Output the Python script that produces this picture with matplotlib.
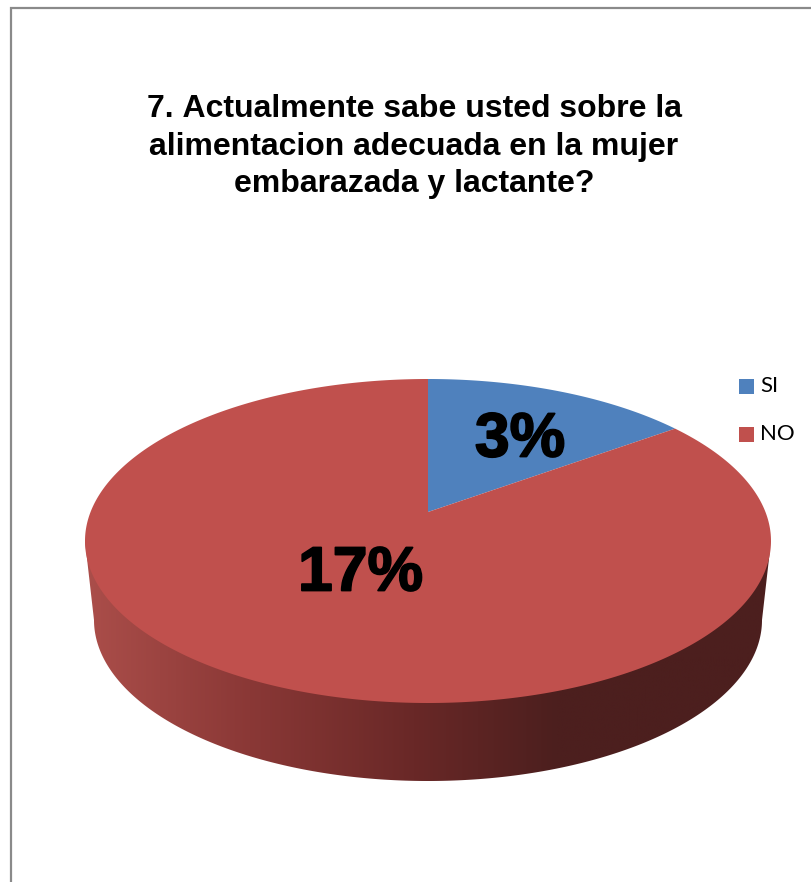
import numpy as np
import matplotlib
matplotlib.use('Agg')
import matplotlib.pyplot as plt
import matplotlib.patheffects as pe
from matplotlib.patches import Polygon, Rectangle
from matplotlib.colors import LinearSegmentedColormap

plt.rcParams['text.kerning_factor'] = 6

# datos
categorias = ['SI', 'NO']
etiquetas = ['3%', '17%']
porcentajes = [12.8, 87.2]  # tamano real de cada sector en el dibujo
colores = ['#4f81bd', '#c0504d']
titulo = ('7. Actualmente sabe usted sobre la\n'
          'alimentacion adecuada en la mujer\n'
          'embarazada y lactante?')

fig = plt.figure(figsize=(8.12, 8.82), dpi=100)
ax = fig.add_axes([0, 0, 1, 1])
ax.set_xlim(0, 812)
ax.set_ylim(882, 0)
ax.axis('off')

# marco del grafico (solo arriba e izquierda)
ax.plot([11, 11, 812], [882, 8, 8], color='#8a8a8a', lw=1.6, solid_joinstyle='miter')

ax.text(414, 146.5, titulo, ha='center', va='center', fontsize=23, fontweight='bold',
        family='Liberation Sans', color='black', linespacing=1.31)

cx, cy, rx, ry = 428, 541, 343, 162
cx2, cy2, rx2, ry2 = 428, 620, 334, 161
apice_y = 512  # por la perspectiva el centro del pastel queda mas arriba

# pared lateral con degradado
t = np.linspace(0, np.pi, 300)
borde = np.column_stack([cx2 + rx2 * np.cos(t), cy2 + ry2 * np.sin(t)])
pared_pts = np.vstack([[[cx + rx, cy]], borde, [[cx - rx, cy]]])
pared = Polygon(pared_pts, closed=True, transform=ax.transData, facecolor='none', edgecolor='none')
ax.add_patch(pared)
cmap = LinearSegmentedColormap.from_list('pared', [(0, '#ab4e4a'), (0.24, '#8a3836'),
                                                  (0.48, '#692827'), (0.69, '#4c1f1e'),
                                                  (1, '#4c1f1e')])
img = ax.imshow(np.linspace(0, 1, 256).reshape(1, -1), cmap=cmap, aspect='auto',
                extent=[85, 770, 790, 530], zorder=2)
img.set_clip_path(pared)
ax.set_xlim(0, 812)
ax.set_ylim(882, 0)

# cara superior
inicio = 0
for p, c in zip(porcentajes, colores):
    fin = inicio + p * 3.6
    ang = np.radians(np.linspace(inicio, fin, 400))
    arco = np.column_stack([cx + rx * np.sin(ang), cy - ry * np.cos(ang)])
    pts = np.vstack([[[cx, apice_y]], arco])
    ax.add_patch(Polygon(pts, closed=True, facecolor=c, edgecolor='none', zorder=3))
    inicio = fin

# etiquetas de datos
grueso = [pe.withStroke(linewidth=1.3, foreground='black')]
ax.text(520, 433.5, etiquetas[0], ha='center', va='center_baseline', fontsize=45, fontweight='bold',
        family='Liberation Sans', color='black', zorder=4, path_effects=grueso)
ax.text(360.5, 567.5, etiquetas[1], ha='center', va='center_baseline', fontsize=45, fontweight='bold',
        family='Liberation Sans', color='black', zorder=4, path_effects=grueso)

# leyenda
for y, nombre, c in zip([386.5, 434.5], categorias, colores):
    ax.add_patch(Rectangle((739, y - 7.5), 15, 15, facecolor=c, edgecolor='none', zorder=4))
    ax.text(760, y, nombre, ha='left', va='center', fontsize=16, family='Lato', color='black', zorder=4)

fig.savefig('out.png', dpi=100)
